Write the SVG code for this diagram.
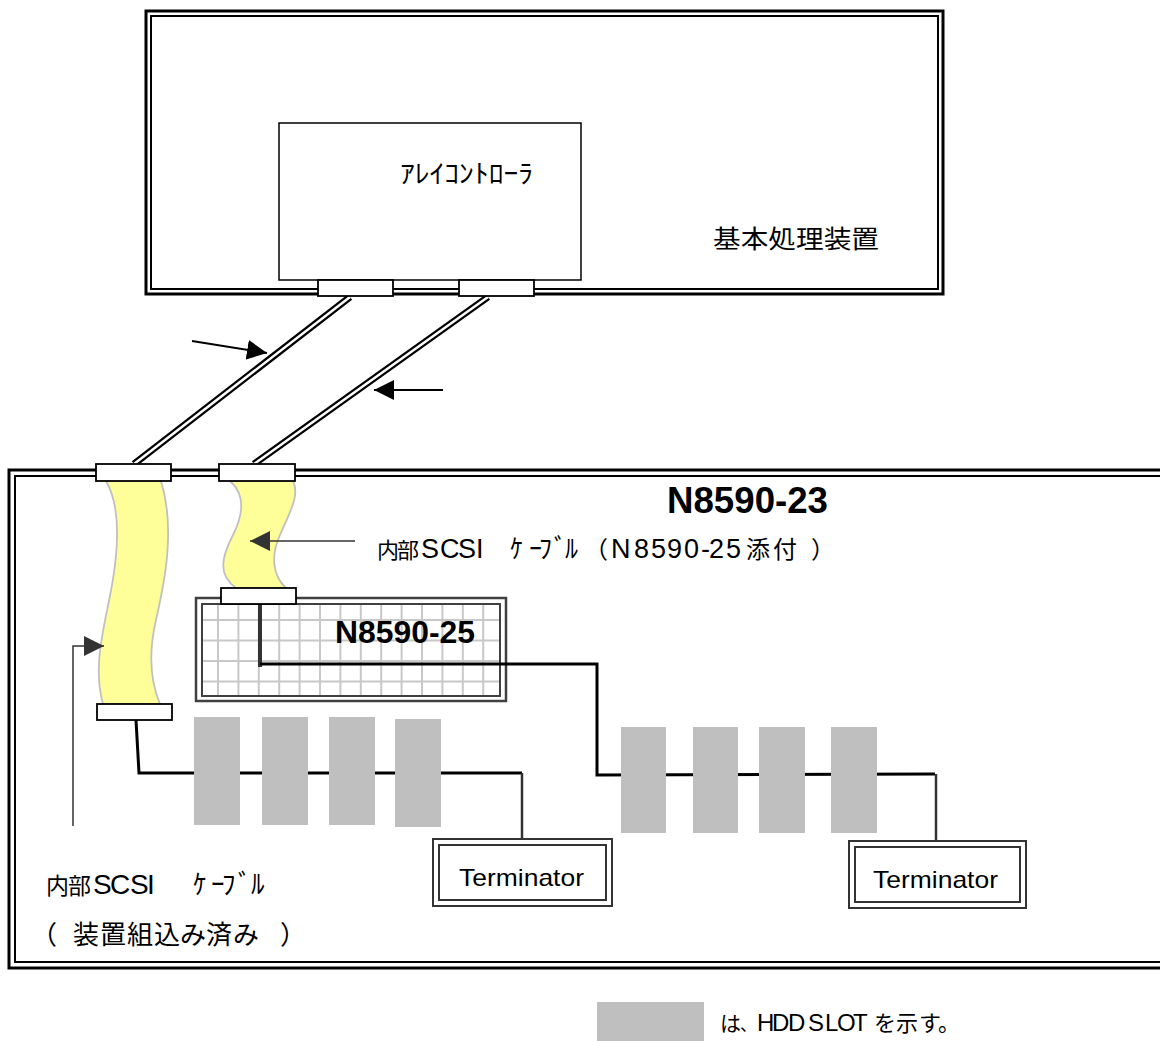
<svg xmlns="http://www.w3.org/2000/svg" width="1160" height="1041" viewBox="0 0 1160 1041">
<defs>
<style>
.outer{fill:none;stroke:#000;stroke-width:3}
.inner{fill:none;stroke:#000;stroke-width:2}
.conn{fill:#fff;stroke:#000;stroke-width:1.8}
.slot{fill:#bfbfbf}
.yel{fill:#ffff99;stroke:#c0c0c0;stroke-width:1.8}
.wire{fill:none;stroke:#000;stroke-width:3}
.thin{fill:none;stroke:#333;stroke-width:1.5}
.jp{font-family:"Liberation Sans","Noto Sans CJK JP",sans-serif;fill:#000}
.b{font-family:"Liberation Sans",Arial,sans-serif;font-weight:bold;fill:#000}
.term{fill:none;stroke:#333;stroke-width:2}
</style>
<marker id="ah" viewBox="0 0 20 20" refX="20" refY="10" markerWidth="20" markerHeight="20" markerUnits="userSpaceOnUse" orient="auto">
<path d="M0,0 L20,10 L0,20 Z" fill="#000"/>
</marker>
<marker id="ahg" viewBox="0 0 20 20" refX="20" refY="10" markerWidth="20" markerHeight="20" markerUnits="userSpaceOnUse" orient="auto">
<path d="M0,0 L20,10 L0,20 Z" fill="#333"/>
</marker>
</defs>
<rect width="1160" height="1041" fill="#fff"/>

<g id="host">
<rect class="outer" x="146" y="11" width="797" height="283"/>
<rect class="inner" x="151" y="16" width="787" height="273"/>
<text class="jp" x="713" y="248" font-size="25" textLength="166" lengthAdjust="spacingAndGlyphs">基本処理装置</text>
</g>

<g id="array-controller">
<rect x="279" y="123" width="302" height="157" fill="#fff" stroke="#000" stroke-width="1.5"/>
<text class="jp" x="400" y="183" font-size="26" textLength="133" lengthAdjust="spacingAndGlyphs">ｱﾚｲｺﾝﾄﾛｰﾗ</text>
</g>

<g id="n8590-23">
<rect class="outer" x="9" y="470" width="1200" height="498"/>
<rect class="inner" x="15" y="476" width="1200" height="486"/>
<text class="b" x="667" y="513" font-size="37" textLength="161" lengthAdjust="spacingAndGlyphs">N8590-23</text>
</g>

<g id="n8590-25">
<rect x="196" y="598" width="310" height="103" fill="#fff" stroke="#404040" stroke-width="2.5"/>
<path d="M218,603V697M238.4,603V697M258.8,603V697M279.2,603V697M299.6,603V697M320,603V697M340.4,603V697M360.8,603V697M381.2,603V697M401.6,603V697M422,603V697M442.4,603V697M462.8,603V697M483.2,603V697M201,620H501M201,640.5H501M201,661H501M201,681.5H501" stroke="#c8c8c8" stroke-width="2" fill="none"/>
<rect x="202" y="604" width="298" height="92" fill="none" stroke="#404040" stroke-width="2"/>
<text class="b" x="335" y="643" font-size="31" textLength="140" lengthAdjust="spacingAndGlyphs">N8590-25</text>
</g>

<g id="internal-cable-1">
<path class="yel" d="M106,481 C120,505 119,545 112,585 C105,625 92,665 103,704 L160,704 C150,680 149,650 156,620 C164,585 176,530 161,481 Z"/>
</g>

<g id="internal-cable-2">
<path class="yel" d="M230,481 C246,495 243,515 233,535 C221,558 218,575 236,588 L286,588 C272,575 271,555 280,535 C290,512 300,495 293,481 Z"/>
</g>

<g id="connectors">
<line x1="350" y1="297" x2="134" y2="464" stroke="#000" stroke-width="7"/>
<line x1="350" y1="297" x2="134" y2="464" stroke="#fff" stroke-width="2.5"/>
<line x1="488" y1="297" x2="254" y2="464" stroke="#000" stroke-width="7"/>
<line x1="488" y1="297" x2="254" y2="464" stroke="#fff" stroke-width="2.5"/>
<line x1="192" y1="341" x2="267" y2="353" stroke="#000" stroke-width="1.8" marker-end="url(#ah)"/>
<line x1="443" y1="390" x2="374" y2="390" stroke="#000" stroke-width="1.8" marker-end="url(#ah)"/>
<path class="thin" d="M73,826 L73,646 L104,646" marker-end="url(#ahg)"/>
<path d="M355,541 L250,541" fill="none" stroke="#333" stroke-width="1.5" marker-end="url(#ahg)"/>
<path class="wire" d="M136,720 L139,773 L522,773"/>
<path d="M522,773 L522,839" fill="none" stroke="#333" stroke-width="2.5"/>
<path d="M260,601 L260,667" stroke="#333" stroke-width="4" fill="none"/>
<path class="wire" d="M260,664 L597,664 L597,775 L935,774"/>
<path d="M936,774 L936,841" fill="none" stroke="#333" stroke-width="2.5"/>
</g>

<g id="connector-blocks">
<rect class="conn" x="318" y="280" width="75" height="16"/>
<rect class="conn" x="459" y="280" width="75" height="16"/>
<rect class="conn" x="96" y="464" width="75" height="17"/>
<rect class="conn" x="219" y="464" width="76" height="17"/>
<rect class="conn" x="221" y="588" width="75" height="16"/>
<rect class="conn" x="97" y="704" width="75" height="16"/>
</g>

<g id="hdd-slots-1">
<rect class="slot" x="194" y="717" width="46" height="108"/>
<rect class="slot" x="262" y="717" width="46" height="108"/>
<rect class="slot" x="329" y="717" width="46" height="108"/>
<rect class="slot" x="395" y="719" width="46" height="108"/>
</g>

<g id="hdd-slots-2">
<rect class="slot" x="621" y="727" width="45" height="106"/>
<rect class="slot" x="693" y="727" width="45" height="106"/>
<rect class="slot" x="759" y="727" width="46" height="106"/>
<rect class="slot" x="831" y="727" width="46" height="106"/>
</g>

<g id="terminator-1">
<rect class="term" x="433" y="839" width="179" height="67"/>
<rect class="term" x="439" y="845" width="167" height="55"/>
<text class="jp" x="459" y="886" font-size="24" textLength="125" lengthAdjust="spacingAndGlyphs">Terminator</text>
</g>

<g id="terminator-2">
<rect class="term" x="849" y="841" width="177" height="67"/>
<rect class="term" x="855" y="847" width="165" height="55"/>
<text class="jp" x="873" y="888" font-size="24" textLength="125" lengthAdjust="spacingAndGlyphs">Terminator</text>
</g>

<g id="labels">
<text class="jp" y="558" font-size="27"><tspan x="377 397" font-size="22">内部</tspan> <tspan x="421 440 458 476">SCSI</tspan> <tspan x="510 529 539 554 565" font-size="26">ｹｰﾌﾞﾙ</tspan><tspan x="584" font-size="24">（</tspan><tspan x="611 634 651 667 684 701 709 726">N8590-25</tspan> <tspan x="746 773 811" font-size="24">添付）</tspan></text>
<text class="jp" y="894" font-size="28"><tspan x="46 68" font-size="23">内部</tspan> <tspan x="93 110 130 147">SCSI</tspan> <tspan x="193 211 222 238 251" font-size="27">ｹｰﾌﾞﾙ</tspan></text>
<text class="jp" y="944" font-size="26"><tspan x="31 73 100 127 154 180 206 233 280">（装置組込み済み）</tspan></text>
</g>

<g id="legend">
<rect class="slot" x="597" y="1002" width="107" height="39"/>
<text class="jp" y="1031" font-size="24"><tspan x="720" font-size="21">は</tspan><tspan x="740" font-size="17">、</tspan><tspan x="757 772 788">HDD</tspan> <tspan x="808 825 837 853">SLOT</tspan> <tspan x="874 896 919 938" font-size="22">を示す。</tspan></text>
</g>
</svg>
